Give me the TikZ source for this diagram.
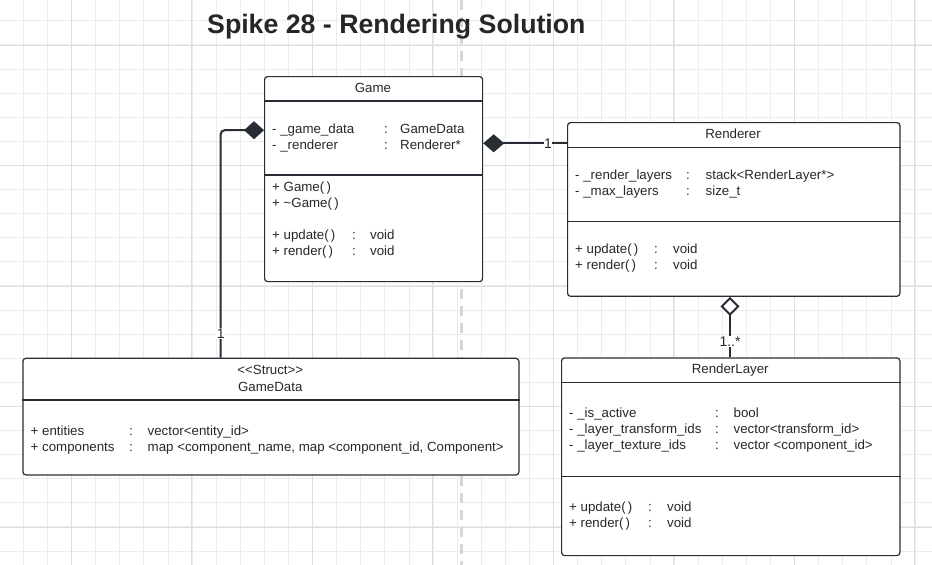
\documentclass[tikz,border=0pt]{standalone}
\usepackage{fontspec}
\setmainfont{Liberation Sans}
\usepackage{array}
\usetikzlibrary{positioning}
\usetikzlibrary{shapes,arrows.meta}

\definecolor{umlline}{RGB}{40,45,53}
\definecolor{umltext}{RGB}{40,40,40}
\definecolor{gridminor}{RGB}{236,236,236}
\definecolor{gridmajor}{RGB}{222,222,222}
\definecolor{pagebreak}{RGB}{214,214,214}

\tikzset{
  umlbox/.style={draw=umlline, line width=1.2pt, fill=white, rounded corners=3pt, anchor=north west, inner sep=0pt},
  divider/.style={draw=umlline, line width=1.2pt},
  boxname/.style={anchor=base, inner sep=0pt, text=umltext, font=\fontsize{13.3}{16}\selectfont},
  members/.style={anchor=base west, inner sep=0pt, text=umltext, font=\fontsize{13.3}{16}\selectfont},
  assoc/.style={draw=umlline, line width=2pt},
  mult/.style={fill=white, inner sep=0.6pt, text=umltext, font=\fontsize{14}{16}\selectfont},
}

\begin{document}
\begin{tikzpicture}[x=1pt, y=-1pt]
  \useasboundingbox (0,0) rectangle (932,565);
  \fill[white] (0,0) rectangle (932,565);
  % background grid
  \foreach \k in {0,...,37}
    \draw[gridminor, line width=0.7pt] ({23.3+24.1*\k},0) -- ({23.3+24.1*\k},565);
  \foreach \k in {0,...,22}
    \draw[gridminor, line width=0.7pt] (0,{20.7+24.1*\k}) -- (932,{20.7+24.1*\k});
  \foreach \k in {0,...,7}
    \draw[gridmajor, line width=0.7pt] ({71.3+120.5*\k},0) -- ({71.3+120.5*\k},565);
  \foreach \k in {0,...,4}
    \draw[gridmajor, line width=0.7pt] (0,{45+120.5*\k}) -- (932,{45+120.5*\k});
  \draw[pagebreak, line width=3pt, dash pattern=on 10pt off 7pt] (461.5,0) -- (461.5,565);

  \node[anchor=base west, inner sep=0pt, text=black!85, font=\fontsize{26.7}{32}\selectfont\bfseries] (title) at (207,33) {Spike 28 - Rendering Solution};

  % Game
  \node[umlbox, minimum width=218pt, minimum height=205pt] (game) at (264,76) {};
  \node[boxname] (game-name) at (373,92) {Game};
  \draw[divider] ([yshift=-25pt]game.north west) -- ([yshift=-25pt]game.north east);
  \draw[divider] ([yshift=-99pt]game.north west) -- ([yshift=-99pt]game.north east);
  \node[members] (game-attr) at (272,133.3) {\begin{tabular}[t]{@{}p{112pt}@{}p{16pt}@{}l@{}}
    - \_game\_data & : & GameData\\
    - \_renderer & : & Renderer*
  \end{tabular}};
  \node[members] (game-ops) at (272,191.5) {\begin{tabular}[t]{@{}p{80pt}@{}p{18pt}@{}l@{}}
    + Game(\,) & & \\
    + \textasciitilde Game(\,) & & \\
    & & \\
    + update(\,) & : & void\\
    + render(\,) & : & void
  \end{tabular}};

  % Renderer
  \node[umlbox, minimum width=332.3pt, minimum height=173.7pt] (renderer) at (567,122) {};
  \node[boxname] (renderer-name) at (733,138) {Renderer};
  \draw[divider] ([yshift=-25.7pt]renderer.north west) -- ([yshift=-25.7pt]renderer.north east);
  \draw[divider] ([yshift=-99.7pt]renderer.north west) -- ([yshift=-99.7pt]renderer.north east);
  \node[members] (renderer-attr) at (575,179.5) {\begin{tabular}[t]{@{}p{111pt}@{}p{19.5pt}@{}l@{}}
    - \_render\_layers & : & stack<RenderLayer*>\\
    - \_max\_layers & : & size\_t
  \end{tabular}};
  \node[members] (renderer-ops) at (575,253.5) {\begin{tabular}[t]{@{}p{79pt}@{}p{19pt}@{}l@{}}
    + update(\,) & : & void\\
    + render(\,) & : & void
  \end{tabular}};

  % GameData
  \node[umlbox, minimum width=496pt, minimum height=116.6pt] (gamedata) at (22.3,357.7) {};
  \node[boxname] (gamedata-stereo) at (270.3,374.5) {<{}<Struct>{}>};
  \node[boxname] (gamedata-name) at (270.3,391) {GameData};
  \draw[divider] ([yshift=-42.3pt]gamedata.north west) -- ([yshift=-42.3pt]gamedata.north east);
  \node[members] (gamedata-attr) at (30.5,435.5) {\begin{tabular}[t]{@{}p{98.5pt}@{}p{18.5pt}@{}l@{}}
    + entities & : & vector<entity\_id>\\
    + components & : & map <component\_name, map <component\_id, Component>
  \end{tabular}};

  % RenderLayer
  \node[umlbox, minimum width=338.3pt, minimum height=197.7pt] (renderlayer) at (561,357.3) {};
  \node[boxname] (renderlayer-name) at (730.2,373) {RenderLayer};
  \draw[divider] ([yshift=-25.4pt]renderlayer.north west) -- ([yshift=-25.4pt]renderlayer.north east);
  \draw[divider] ([yshift=-119.4pt]renderlayer.north west) -- ([yshift=-119.4pt]renderlayer.north east);
  \node[members] (renderlayer-attr) at (569,417) {\begin{tabular}[t]{@{}p{146pt}@{}p{18.5pt}@{}l@{}}
    - \_is\_active & : & bool\\
    - \_layer\_transform\_ids & : & vector<transform\_id>\\
    - \_layer\_texture\_ids & : & vector <component\_id>
  \end{tabular}};
  \node[members] (renderlayer-ops) at (569,511) {\begin{tabular}[t]{@{}p{79pt}@{}p{19pt}@{}l@{}}
    + update(\,) & : & void\\
    + render(\,) & : & void
  \end{tabular}};

  % connectors
  \coordinate (renderer-in) at ([yshift=-21.3pt]renderer.north west);
  \coordinate (game-out) at ([yshift=-54.2pt]game.north west);
  \coordinate (gamedata-in) at ([xshift=198.4pt]gamedata.north west);
  \coordinate (renderer-out) at ([xshift=163pt]renderer.south west);
  \draw[assoc, {Diamond[length=21pt,width=18pt]}-] (game.east |- renderer-in) -- (renderer-in);
  \draw[assoc, rounded corners=4pt, {Diamond[length=20pt,width=18pt]}-] (game-out) -| (gamedata-in);
  \draw[assoc, {Diamond[open,fill=white,length=19pt,width=19pt]}-] (renderer-out) -- (renderer-out |- renderlayer.north);
  \node[mult] (m-renderer) at ([xshift=-19pt]renderer-in) {1};
  \node[mult] (m-gamedata) at ([yshift=24.4pt]gamedata-in) {1};
  \node[mult] (m-layers) at ([yshift=-44.3pt]renderer-out) {1..*};
\end{tikzpicture}
\end{document}
